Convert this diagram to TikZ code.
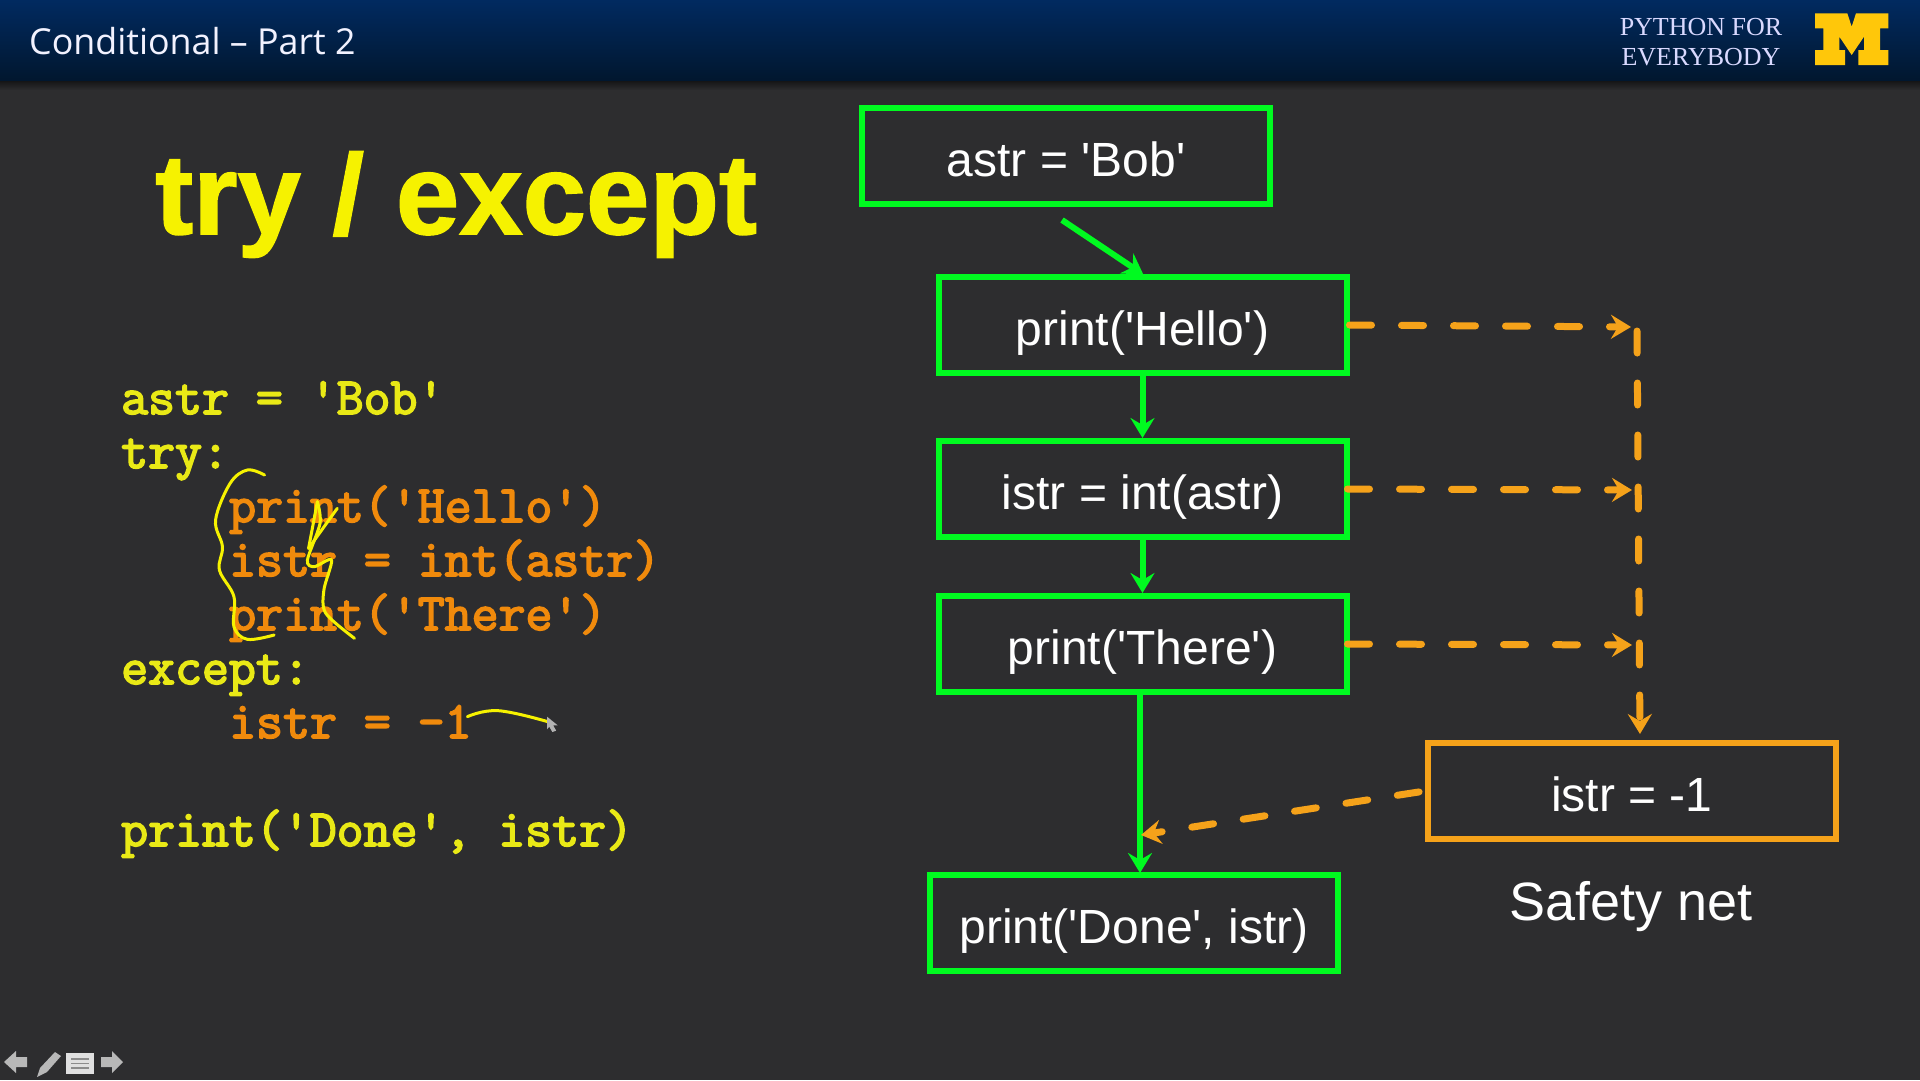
\documentclass[tikz,border=0pt]{standalone}
\usepackage{fontspec}
\newfontfamily\boxfont{Liberation Sans}
\newfontfamily\titlefont{Liberation Sans Bold}[FakeBold=1.3]
\newfontfamily\codefont{Latin Modern Mono}[FakeBold=3.2]
\newfontfamily\logofont{Liberation Serif}
\newfontfamily\headfont{Open Sans}
\usetikzlibrary{arrows.meta,shadings}
\definecolor{bgc}{HTML}{2D2D2F}
\definecolor{grn}{HTML}{00FA20}
\definecolor{org}{HTML}{F5A21A}
\definecolor{ylw}{HTML}{F6F200}
\definecolor{cyel}{HTML}{E9E916}
\definecolor{corg}{HTML}{F08A0C}
\definecolor{mgold}{HTML}{FFC70A}
\definecolor{navytop}{HTML}{012A60}
\definecolor{navybot}{HTML}{01172F}
\tikzset{
  x=1pt,y=-1pt,
  flowbox/.style={draw=grn,line width=6pt,minimum width=408pt,minimum height=96pt,inner sep=0pt,
    text=white,font=\boxfont\fontsize{48}{48}\selectfont,text height=40pt,text depth=0pt,align=center},
  catchbox/.style={flowbox,draw=org},
  codeline/.style={anchor=base west,inner sep=0pt,font=\codefont\fontsize{52.3}{54}\selectfont},
  yelcode/.style={codeline,text=cyel},
  orgcode/.style={codeline,text=corg},
  flow/.style={draw=grn,line width=6pt,-{Stealth[length=20pt,width=24pt,inset=7pt]}},
  jump/.style={draw=org,line width=7pt,line cap=round,dash pattern=on 22pt off 30pt,-{Stealth[length=20pt,width=24pt,inset=7pt,line cap=butt]}},
  ink/.style={draw=ylw,line width=3pt,line cap=round,line join=round},
  icon/.style={fill=white!72!black,draw=none},
}
\begin{document}
\begin{tikzpicture}
\useasboundingbox (0,0) rectangle (1920,1080);
\fill[bgc] (0,0) rectangle (1920,1080);
% header
\shade[top color=black!70!bgc,bottom color=bgc] (0,78) rectangle (1920,90);
\shade[top color=navytop,bottom color=navybot] (0,0) rectangle (1920,80);
\node[anchor=base west,inner sep=0pt,text=white!95!blue,font=\headfont\fontsize{35.8}{40}\selectfont] (hdr) at (29,54) {Conditional – Part 2};
\node[anchor=center,inner sep=0pt,align=center,text=white!85!blue,font=\logofont\fontsize{26}{30}\selectfont] (brand) at (1701,42) {PYTHON FOR\\[0pt]EVERYBODY};
\begin{scope}[shift={(1500,0)},scale=1/3]
\fill[mgold] (945,40)--(1042,40)--(1055,80)--(1068,40)--(1165,40)--(1165,85)--(1140,85)--(1140,150)--(1165,150)--(1165,195)--(1075,195)--(1075,150)--(1092,150)--(1092,110)--(1055,165)--(1018,110)--(1018,150)--(1035,150)--(1035,195)--(945,195)--(945,150)--(970,150)--(970,85)--(945,85)--cycle;
\end{scope}
% title
\node[anchor=base west,inner sep=0pt,text=ylw,font=\titlefont\fontsize{114}{120}\selectfont] (title) at (155,234) {try / except};
% code
\node[yelcode] (c1) at (121,414) {astr = 'Bob'};
\node[yelcode] (c2) at (121,468) {try:};
\node[orgcode] (c3) at (229,522) {print('Hello')};
\node[orgcode] (c4) at (229,576) {istr = int(astr)};
\node[orgcode] (c5) at (229,630) {print('There')};
\node[yelcode] (c6) at (121,684) {except:};
\node[orgcode] (c7) at (229,738) {istr = -1};
\node[yelcode] (c8) at (121,846) {print('Done', istr)};
% handwriting
\begin{scope}[shift={(100,370)},xscale=0.3827,yscale=1/3]
\draw[ink] plot[smooth,tension=.6] coordinates {(430,315) (385,300) (340,340) (302,450) (320,530) (312,600) (350,680) (350,770) (385,808) (455,795)};
\draw[ink] plot[smooth,tension=.35] coordinates {(620,415) (545,535)};
\draw[ink] (545,535) -- (568,395);
\draw[ink] plot[smooth,tension=.5] coordinates {(568,395) (575,460) (542,570) (560,590) (605,570) (585,660) (590,730) (665,805)};
\draw[ink] plot[smooth,tension=.7] coordinates {(960,1040) (1040,1022) (1170,1055)};
\fill[white!70!black] (1168,1040)--(1196,1066)--(1184,1066)--(1192,1082)--(1182,1086)--(1174,1070)--(1168,1078)--cycle;
\end{scope}
% boxes
\node[flowbox] (astr) at (1066,156) {astr = 'Bob'};
\node[flowbox] (hello) at (1142.5,325) {print('Hello')};
\node[flowbox] (int) at (1142.5,489) {istr = int(astr)};
\node[flowbox] (there) at (1142.5,644) {print('There')};
\node[flowbox,xshift=-8pt] (done) at (1142,923) {print('Done', istr)};
\node[catchbox] (net) at (1632,791) {istr = -1};
\node[anchor=base,inner sep=0pt,text=white,font=\boxfont\fontsize{54}{60}\selectfont] (safety) at (1631,920) {Safety net};
% green connectors
\coordinate (doneIn) at (there.south |- done.north);
\draw[flow,shorten >=-1pt] ([xshift=-4pt,yshift=-13pt]astr.south) -- (hello.north);
\draw[flow] (hello.south) -- (int.north);
\draw[flow] (int.south) -- (there.north);
\draw[flow,shorten >=-1pt] ([xshift=-2.5pt]there.south) -- ([xshift=-2.5pt]doneIn);
% orange connectors
\coordinate (rail) at (1637,327);
\coordinate (rail2) at (1638,490);
\coordinate (rail3) at (1638,645);
\coordinate (hit) at (1141,835);
\draw[jump,shorten >=6pt] (hello.east) -- (rail);
\draw[jump,shorten >=6pt] ([xshift=-2pt]int.east) -- (rail2);
\draw[jump,shorten >=6pt] ([xshift=-2pt]there.east) -- (rail3);
\draw[jump,shorten <=4pt,shorten >=2pt] (rail) -- ([xshift=8pt,yshift=4pt]net.north);
\draw[jump,shorten <=6pt] (net.west) -- (hit);
% navigation icons
\fill[icon] (4,1062)--(16,1051)--(16,1057)--(27,1057)--(27,1067)--(16,1067)--(16,1073)--cycle;
\fill[icon] (37,1077)--(40,1068)--(55,1052)--(61,1056)--(47,1072)--cycle;
\fill[white!88!black] (66,1053) rectangle (94,1074);
\draw[black!45,line width=1.5pt] (71,1059)--(89,1059) (71,1063.5)--(89,1063.5) (71,1068)--(89,1068);
\fill[icon] (123,1062)--(112,1051)--(112,1057)--(101,1057)--(101,1067)--(112,1067)--(112,1073)--cycle;
\end{tikzpicture}
\end{document}
